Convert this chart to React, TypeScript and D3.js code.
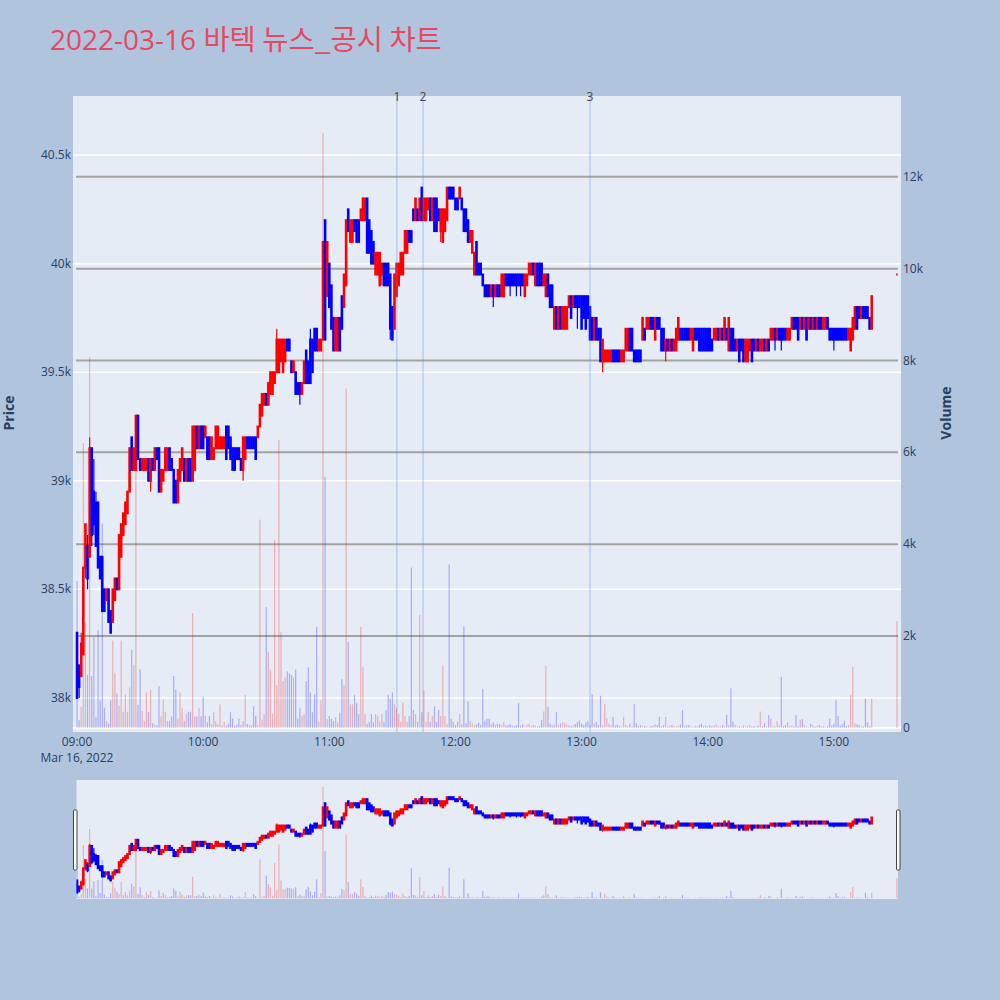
import React from "react";
import * as d3 from "d3";

// ---------- DATA (1-minute candles from 09:00, index = minutes after 09:00) ----------
const opens = [
  38300, 38150, 38100, 38200, 38600, 38700, 38650, 39150, 38950, 38900,
  38900, 38650, 38650, 38500, 38450, 38500, 38400, 38350, 38450, 38550,
  38500, 38650, 38750, 38800, 38850, 38950, 39200, 39050, 39050, 39300,
  39100, 39050, 39050, 39050, 39100, 39000, 39100, 39050, 39150, 39150,
  38950, 39000, 39050, 39050, 39150, 39100, 39050, 39000, 38900, 39000,
  39050, 39100, 39000, 39100, 39100, 39000, 39050, 39250, 39150, 39250,
  39250, 39200, 39200, 39200, 39100, 39100, 39150, 39150, 39150, 39150,
  39150, 39250, 39250, 39200, 39150, 39150, 39150, 39150, 39100, 39050,
  39100, 39200, 39200, 39200, 39200, 39200, 39200, 39250, 39300, 39350,
  39400, 39350, 39400, 39400, 39450, 39500, 39500, 39550, 39500, 39550,
  39650, 39650, 39550, 39500, 39500, 39450, 39450, 39400, 39450, 39600,
  39550, 39650, 39650, 39700, 39700, 39600, 39600, 39650, 40200, 39850,
  40000, 39900, 39750, 39600, 39600, 39750, 39850, 39800, 39900, 40250,
  40100, 40100, 40200, 40200, 40200, 40200, 40200, 40200, 40300, 40200,
  40150, 40100, 39950, 39950, 39900, 39950, 40000, 40000, 40000, 39950,
  39800, 39700, 39850, 39900, 39950, 39950, 40050, 40050, 40150, 40150,
  40250, 40200, 40250, 40200, 40350, 40200, 40200, 40250, 40300, 40200,
  40300, 40300, 40250, 40150, 40100, 40150, 40200, 40350, 40350, 40350,
  40300, 40300, 40300, 40300, 40250, 40250, 40200, 40100, 40050, 39950,
  40100, 40000, 40000, 39950, 39900, 39900, 39900, 39850, 39900, 39850,
  39900, 39900, 39850, 39850, 39950, 39950, 39950, 39950, 39950, 39950,
  39950, 39950, 39950, 39850, 39900, 39950, 39950, 40000, 39900, 40000,
  40000, 40000, 39900, 39850, 39950, 39900, 39900, 39700, 39800, 39700,
  39800, 39700, 39700, 39700, 39800, 39850, 39800, 39850, 39850, 39850,
  39850, 39850, 39850, 39850, 39800, 39750, 39650, 39750, 39700, 39700,
  39550, 39550, 39550, 39550, 39550, 39600, 39600, 39600, 39600, 39550,
  39550, 39600, 39600, 39700, 39700, 39600, 39600, 39600, 39600, 39650,
  39700, 39700, 39700, 39750, 39750, 39650, 39750, 39750, 39700, 39700,
  39600, 39650, 39600, 39650, 39600, 39600, 39650, 39700, 39700, 39700,
  39700, 39700, 39650, 39600, 39700, 39700, 39700, 39700, 39700, 39700,
  39700, 39700, 39650, 39650, 39650, 39700, 39650, 39700, 39650, 39700,
  39600, 39700, 39700, 39650, 39600, 39650, 39650, 39650, 39550, 39550,
  39600, 39650, 39650, 39600, 39650, 39600, 39600, 39650, 39600, 39650,
  39650, 39650, 39700, 39650, 39700, 39700, 39700, 39700, 39650, 39650,
  39700, 39750, 39750, 39750, 39700, 39750, 39700, 39750, 39700, 39750,
  39700, 39750, 39700, 39750, 39750, 39700, 39700, 39750, 39700, 39700,
  39700, 39700, 39700, 39700, 39700, 39700, 39700, 39650, 39600, 39650,
  39700, 39800, 39800, 39750, 39800, 39800, 39800, 39750, 39700,
];
const closes = [
  38000, 38050, 38250, 38600, 38800, 38550, 39150, 38750, 38800, 38700,
  38600, 38550, 38400, 38400, 38500, 38350, 38300, 38500, 38550, 38500,
  38750, 38800, 38850, 38900, 38950, 39150, 39050, 39150, 39300, 39100,
  39050, 39100, 39100, 39100, 39000, 39100, 39050, 39150, 39100, 38950,
  39050, 39050, 39150, 39150, 39050, 39050, 38900, 38900, 39050, 39100,
  39150, 39000, 39100, 39000, 39000, 39250, 39250, 39150, 39250, 39150,
  39150, 39250, 39100, 39100, 39200, 39150, 39250, 39250, 39200, 39200,
  39200, 39100, 39150, 39100, 39050, 39050, 39100, 39100, 39050, 39200,
  39200, 39150, 39150, 39150, 39150, 39100, 39250, 39350, 39400, 39400,
  39350, 39450, 39500, 39500, 39500, 39650, 39650, 39650, 39650, 39650,
  39600, 39600, 39500, 39550, 39400, 39400, 39400, 39450, 39550, 39450,
  39450, 39450, 39500, 39600, 39600, 39650, 39650, 40100, 39650, 40100,
  39800, 39700, 39600, 39750, 39750, 39600, 39700, 39950, 40200, 40150,
  40200, 40200, 40150, 40100, 40100, 40250, 40300, 40300, 40050, 40050,
  40000, 40000, 40050, 40050, 40050, 40000, 39900, 39900, 39900, 39700,
  39650, 39950, 40000, 40000, 40050, 40050, 40150, 40150, 40100, 40100,
  40200, 40300, 40200, 40300, 40200, 40300, 40300, 40300, 40200, 40300,
  40150, 40150, 40200, 40250, 40250, 40250, 40350, 40300, 40300, 40300,
  40250, 40250, 40350, 40250, 40150, 40150, 40100, 40150, 40150, 40050,
  39950, 39950, 39950, 39900, 39850, 39850, 39850, 39900, 39850, 39900,
  39850, 39850, 39950, 39950, 39900, 39900, 39900, 39900, 39900, 39900,
  39900, 39900, 39900, 39950, 39950, 40000, 40000, 39950, 40000, 39900,
  39900, 39900, 39950, 39950, 39850, 39800, 39800, 39800, 39700, 39800,
  39700, 39800, 39800, 39800, 39850, 39750, 39850, 39800, 39800, 39800,
  39700, 39750, 39700, 39750, 39650, 39650, 39750, 39650, 39650, 39550,
  39650, 39600, 39600, 39600, 39600, 39550, 39550, 39550, 39550, 39600,
  39600, 39700, 39700, 39600, 39600, 39550, 39550, 39550, 39550, 39750,
  39650, 39750, 39750, 39700, 39700, 39750, 39700, 39700, 39600, 39600,
  39650, 39600, 39650, 39600, 39650, 39700, 39750, 39650, 39650, 39650,
  39650, 39650, 39700, 39700, 39650, 39650, 39600, 39600, 39600, 39600,
  39600, 39600, 39600, 39700, 39700, 39650, 39700, 39650, 39750, 39650,
  39750, 39600, 39600, 39600, 39650, 39550, 39600, 39550, 39650, 39650,
  39650, 39550, 39600, 39650, 39600, 39650, 39650, 39600, 39650, 39600,
  39700, 39700, 39650, 39700, 39650, 39650, 39650, 39650, 39700, 39700,
  39750, 39700, 39700, 39650, 39750, 39700, 39750, 39650, 39750, 39700,
  39750, 39700, 39750, 39700, 39700, 39750, 39750, 39700, 39650, 39650,
  39650, 39650, 39650, 39650, 39650, 39650, 39650, 39700, 39700, 39750,
  39800, 39700, 39750, 39800, 39750, 39750, 39750, 39700, 39850,
];
const volumes = [
  3200, 170, 460, 6200, 2300, 1150, 8070, 1130, 1980, 240,
  2130, 600, 4450, 440, 150, 100, 600, 1900, 1200, 750,
  480, 1900, 350, 730, 350, 880, 1700, 1370, 6590, 500,
  1280, 370, 150, 770, 350, 830, 100, 60, 60, 910,
  250, 620, 350, 150, 150, 250, 1130, 830, 200, 770,
  430, 150, 300, 350, 350, 2500, 250, 250, 430, 250,
  680, 260, 120, 260, 90, 340, 150, 80, 510, 60,
  130, 50, 90, 340, 200, 40, 70, 200, 60, 150,
  720, 90, 50, 60, 470, 260, 60, 4535, 180, 300,
  2630, 1650, 1270, 300, 4090, 935, 6270, 2080, 1020, 1100,
  1230, 1190, 1150, 1100, 1270, 200, 430, 260, 300, 1020,
  1320, 770, 340, 730, 2200, 130, 600, 12960, 5470, 190,
  260, 200, 150, 230, 120, 330, 1060, 935, 7390, 1870,
  510, 510, 720, 540, 300, 2200, 1320, 300, 80, 130,
  300, 120, 300, 260, 140, 300, 130, 390, 720, 640,
  770, 510, 430, 300, 130, 550, 260, 130, 260, 3490,
  390, 300, 130, 2460, 340, 810, 130, 340, 130, 260,
  470, 130, 390, 260, 1360, 260, 80, 3560, 200, 130,
  60, 130, 300, 80, 2210, 100, 580, 150, 100, 60,
  80, 110, 60, 850, 150, 200, 200, 80, 120, 60,
  90, 80, 60, 120, 50, 60, 80, 50, 40, 60,
  540, 50, 80, 30, 70, 90, 40, 60, 50, 30,
  40, 170, 360, 1355, 460, 90, 60, 70, 340, 60,
  90, 120, 110, 70, 60, 40, 60, 80, 130, 160,
  90, 60, 120, 150, 60, 730, 90, 130, 60, 700,
  50, 515, 210, 90, 60, 240, 50, 70, 40, 30,
  240, 60, 40, 90, 30, 515, 100, 40, 60, 50,
  40, 30, 20, 40, 50, 80, 60, 240, 40, 60,
  240, 30, 50, 60, 40, 30, 40, 70, 390, 40,
  50, 60, 30, 20, 40, 30, 60, 90, 40, 50,
  30, 60, 40, 50, 80, 30, 30, 60, 40, 283,
  60, 860, 140, 60, 30, 40, 20, 50, 30, 40,
  60, 30, 40, 30, 50, 355, 40, 100, 30, 280,
  210, 40, 30, 140, 50, 1115, 40, 60, 120, 40,
  60, 30, 280, 40, 175, 190, 60, 30, 20, 90,
  60, 30, 40, 60, 30, 40, 20, 40, 200, 50,
  90, 610, 260, 50, 80, 150, 40, 60, 720, 1330,
  100, 80, 60, 40, 30, 640, 120, 40, 640,
];
// wick extremes beyond the candle body: [minute index, price]
const wickHighs = [[2, 38300], [5, 38750], [6, 39200], [8, 39100], [9, 38950], [95, 39700], [111, 39700]];
const wickLows = [
  [1, 38000], [4, 38550], [5, 38500], [7, 38700], [8, 38750], [35, 38950], [79, 39000],
  [106, 39350], [145, 39900], [149, 39650], [173, 40100], [198, 39800], [206, 39850],
  [209, 39850], [211, 39850], [238, 39700], [250, 39500], [280, 39550], [332, 39600],
  [335, 39600], [360, 39600],
];
// closing auction candle (15:30)
const auctionTime = [15, 30];
const auctionOHLCV = [39950, 39950, 39950, 39950, 2330];

const priceTicks = [38000, 38500, 39000, 39500, 40000, 40500];
const priceTickLabels = ["38k", "38.5k", "39k", "39.5k", "40k", "40.5k"];
const volumeTicks = [0, 2000, 4000, 6000, 8000, 10000, 12000];
const volumeTickLabels = ["0", "2k", "4k", "6k", "8k", "10k", "12k"];
const timeTickHours = [9, 10, 11, 12, 13, 14, 15];
const timeTickLabels = ["09:00", "10:00", "11:00", "12:00", "13:00", "14:00", "15:00"];
const eventLabels = ["1", "2", "3"];
const eventTimes = [[11, 32, 10], [11, 44, 35], [13, 4, 0]];

const TITLE = "2022-03-16 ";
const TITLE_KO = "바텍 뉴스_공시 차트";

// ---------- helpers ----------
const day = (h: number, m: number, s = 0) => new Date(2022, 2, 16, h, m, s);
const RED = "#ff0000";
const BLUE = "#0000ff";
const FONT = "'Open Sans', verdana, arial, sans-serif";
const TICK_COLOR = "#2a3f5f";

type Candle = { t: Date; o: number; h: number; l: number; c: number; v: number; up: boolean };

function buildCandles(): Candle[] {
  const hiMap = new Map(wickHighs.map(([i, p]) => [i, p]));
  const loMap = new Map(wickLows.map(([i, p]) => [i, p]));
  const out: Candle[] = opens.map((o, i) => {
    const c = closes[i];
    const h = Math.max(o, c, hiMap.get(i) ?? -Infinity);
    const l = Math.min(o, c, loMap.get(i) ?? Infinity);
    return { t: day(9, i), o, h, l, c, v: volumes[i], up: c >= o };
  });
  const [ao, ah, al, ac, av] = auctionOHLCV;
  const prevClose = closes[closes.length - 1];
  out.push({ t: day(auctionTime[0], auctionTime[1]), o: ao, h: ah, l: al, c: ac, v: av, up: ac > ao || (ac === ao && ac >= prevClose) });
  return out;
}

const PLOT = { left: 73, right: 901, top: 96, bottom: 732 };
const SLIDER = { left: 76.5, right: 898, top: 780, bottom: 899 };

export default function App() {
  const candles = buildCandles();

  const x = d3.scaleTime().domain([day(8, 59, 45), day(15, 30, 30)]).range([76.5, 898]);
  const yP = d3.scaleLinear().domain([37843, 40772]).range([PLOT.bottom, PLOT.top]);
  const yV = d3.scaleLinear().domain([-90, 13760]).range([PLOT.bottom, PLOT.top]);
  const sP = d3.scaleLinear().domain([37843, 40772]).range([SLIDER.bottom, SLIDER.top]);
  const sV = d3.scaleLinear().domain([-90, 13760]).range([SLIDER.bottom, SLIDER.top]);

  const candleMarks = (yS: d3.ScaleLinear<number, number>, key: string) =>
    candles.map((d, i) => {
      const cx = x(d.t);
      const col = d.up ? RED : BLUE;
      const yTop = yS(Math.max(d.o, d.c));
      const yBot = yS(Math.min(d.o, d.c));
      const w = i === candles.length - 1 ? 1.6 : 2.6;
      return (
        <g key={key + i}>
          <line x1={cx} x2={cx} y1={yS(d.h)} y2={yS(d.l)} stroke={col} strokeWidth={1.2} />
          <rect x={cx - w / 2} width={w} y={yTop - 1} height={yBot - yTop + 2} fill={col} />
        </g>
      );
    });

  const volumeMarks = (yS: d3.ScaleLinear<number, number>, key: string) =>
    candles.map((d, i) => {
      const cx = x(d.t);
      return (
        <rect
          key={key + i}
          x={cx - 0.6}
          width={1.2}
          y={yS(d.v)}
          height={yS(0) - yS(d.v)}
          fill={d.up ? RED : BLUE}
          fillOpacity={0.27}
        />
      );
    });

  return (
    <svg width={1000} height={1000} style={{ position: "absolute", left: 0, top: 0 }}>
      <defs>
        <clipPath id="plotClip">
          <rect x={PLOT.left} y={PLOT.top} width={PLOT.right - PLOT.left} height={PLOT.bottom - PLOT.top} />
        </clipPath>
        <clipPath id="sliderClip">
          <rect x={SLIDER.left} y={SLIDER.top} width={SLIDER.right - SLIDER.left} height={SLIDER.bottom - SLIDER.top} />
        </clipPath>
      </defs>
      <rect width={1000} height={1000} fill="#b0c4de" />

      {/* title */}
      <text x={50} y={50} fill="#e8485f" style={{ fontFamily: FONT, fontSize: 28 }}>
        {TITLE}
        <tspan style={{ fontFamily: "'Noto Sans CJK KR', sans-serif", fontSize: 28.5 }}>{TITLE_KO}</tspan>
      </text>

      {/* main plot */}
      <rect x={PLOT.left} y={PLOT.top} width={PLOT.right - PLOT.left} height={PLOT.bottom - PLOT.top} fill="#e5ecf6" />
      {priceTicks.map((p, i) => (
        <line key={"pg" + i} x1={PLOT.left} x2={PLOT.right} y1={yP(p)} y2={yP(p)} stroke="#ffffff" strokeWidth={1.5} />
      ))}
      <line x1={PLOT.left} x2={PLOT.right} y1={yV(0)} y2={yV(0)} stroke="#ffffff" strokeWidth={2} />
      {volumeTicks.slice(1).map((v, i) => (
        <line key={"vg" + i} x1={PLOT.left + 3} x2={PLOT.right - 3} y1={yV(v)} y2={yV(v)} stroke="#a3a3a3" strokeWidth={2} />
      ))}
      <g clipPath="url(#plotClip)">
        {volumeMarks(yV, "v")}
        {candleMarks(yP, "c")}
        {eventTimes.map((t, i) => (
          <line key={"ev" + i} x1={x(day(t[0], t[1], t[2]))} x2={x(day(t[0], t[1], t[2]))} y1={PLOT.top} y2={PLOT.bottom}
            stroke="#5a82e0" strokeOpacity={0.45} strokeWidth={1} />
        ))}
      </g>
      {eventTimes.map((t, i) => (
        <text key={"evt" + i} x={x(day(t[0], t[1], t[2]))} y={101} textAnchor="middle" fill="#444"
          style={{ fontFamily: FONT, fontSize: 12 }}>{eventLabels[i]}</text>
      ))}

      {/* left price axis */}
      {priceTicks.map((p, i) => (
        <text key={"pt" + i} x={71} y={yP(p) + 4} textAnchor="end" fill={TICK_COLOR} style={{ fontFamily: FONT, fontSize: 12 }}>
          {priceTickLabels[i]}
        </text>
      ))}
      {/* right volume axis */}
      {volumeTicks.map((v, i) => (
        <text key={"vt" + i} x={903} y={yV(v) + 4} textAnchor="start" fill={TICK_COLOR} style={{ fontFamily: FONT, fontSize: 12 }}>
          {volumeTickLabels[i]}
        </text>
      ))}
      {/* x axis */}
      {timeTickHours.map((h, i) => (
        <text key={"xt" + i} x={x(day(h, 0))} y={746} textAnchor="middle" fill={TICK_COLOR} style={{ fontFamily: FONT, fontSize: 12 }}>
          {timeTickLabels[i]}
        </text>
      ))}
      <text x={x(day(9, 0))} y={762} textAnchor="middle" fill={TICK_COLOR} style={{ fontFamily: FONT, fontSize: 12 }}>
        Mar 16, 2022
      </text>

      {/* axis titles */}
      <text transform="translate(14,413) rotate(-90)" textAnchor="middle" fill={TICK_COLOR}
        style={{ fontFamily: FONT, fontSize: 14, fontWeight: 700 }}>Price</text>
      <text transform="translate(951,413) rotate(-90)" textAnchor="middle" fill={TICK_COLOR}
        style={{ fontFamily: FONT, fontSize: 14, fontWeight: 700 }}>Volume</text>

      {/* range slider */}
      <rect x={SLIDER.left} y={SLIDER.top} width={SLIDER.right - SLIDER.left} height={SLIDER.bottom - SLIDER.top} fill="#e5ecf6" />
      <g clipPath="url(#sliderClip)">
        {volumeMarks(sV, "sv")}
        {candleMarks(sP, "sc")}
      </g>
      <rect x={73.5} y={810} width={3.5} height={60} fill="#ffffff" stroke="#444" strokeWidth={1} rx={1} />
      <rect x={896.5} y={810} width={3.5} height={60} fill="#ffffff" stroke="#444" strokeWidth={1} rx={1} />
    </svg>
  );
}
